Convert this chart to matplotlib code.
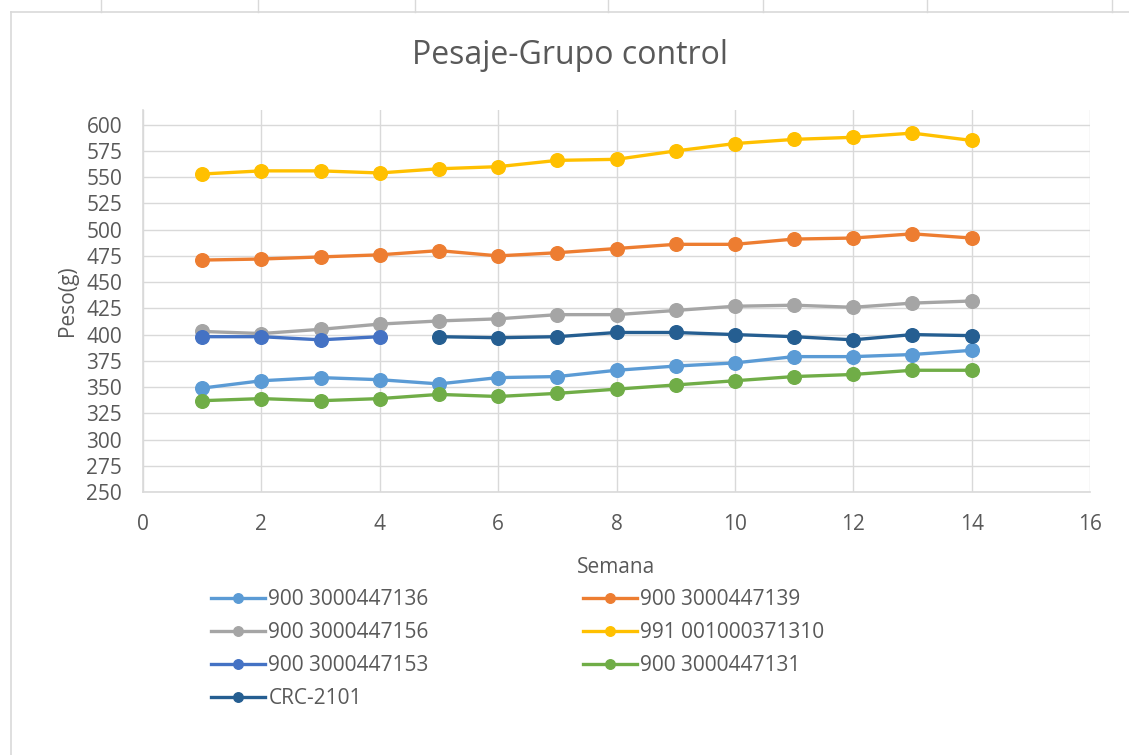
import matplotlib
matplotlib.use("Agg")
import matplotlib.pyplot as plt
from matplotlib.lines import Line2D

plt.rcParams['font.family'] = ['Open Sans', 'DejaVu Sans']

# semanas y pesos (g) de cada animal
semanas = list(range(1, 15))
peso_136 = [349, 356, 359, 357, 353, 359, 360, 366, 370, 373, 379, 379, 381, 385]
peso_139 = [471, 472, 474, 476, 480, 475, 478, 482, 486, 486, 491, 492, 496, 492]
peso_156 = [403, 401, 405, 410, 413, 415, 419, 419, 423, 427, 428, 426, 430, 432]
peso_310 = [553, 556, 556, 554, 558, 560, 566, 567, 575, 582, 586, 588, 592, 585]
semanas_153 = [1, 2, 3, 4]
peso_153 = [398, 398, 395, 398]
peso_131 = [337, 339, 337, 339, 343, 341, 344, 348, 352, 356, 360, 362, 366, 366]
semanas_crc = list(range(5, 15))
peso_crc = [398, 397, 398, 402, 402, 400, 398, 395, 400, 399]

series = [
    ("900 3000447136", semanas, peso_136, "#5B9BD5"),
    ("900 3000447139", semanas, peso_139, "#ED7D31"),
    ("900 3000447156", semanas, peso_156, "#A5A5A5"),
    ("991 001000371310", semanas, peso_310, "#FFC000"),
    ("900 3000447153", semanas_153, peso_153, "#4472C4"),
    ("900 3000447131", semanas, peso_131, "#70AD47"),
    ("CRC-2101", semanas_crc, peso_crc, "#255E91"),
]

fig = plt.figure(figsize=(11.29, 7.55), dpi=100)

# bordes tipo hoja de calculo
grey = "#D9D9D9"
fig.add_artist(Line2D([11/1129, 11/1129], [0, 1 - 12/755], color=grey, lw=1.2))
fig.add_artist(Line2D([11/1129, 1], [1 - 12/755, 1 - 12/755], color=grey, lw=1.2))
for xc in [101, 258, 415, 608, 763, 927, 1112]:
    fig.add_artist(Line2D([xc/1129, xc/1129], [1 - 12/755, 1], color=grey, lw=1))

ax = fig.add_axes([143/1129, 1 - 492/755, (1090 - 143)/1129, (492 - 110)/755])

handles = {}
for name, xs, ys, c in series:
    h, = ax.plot(xs, ys, color=c, lw=2.4, marker="o", markersize=9.8, label=name)
    handles[name] = h

ax.set_xlim(0, 16)
ax.set_ylim(250, 614)
ax.set_xticks(range(0, 17, 2))
ax.set_yticks(range(250, 601, 25))
ax.grid(True, color=grey, lw=1)
ax.set_axisbelow(True)
for s in ["top", "right"]:
    ax.spines[s].set_visible(False)
for s in ["left", "bottom"]:
    ax.spines[s].set_color(grey)
    ax.spines[s].set_linewidth(1.2)
ax.tick_params(length=0, labelsize=15, colors="#595959")
ax.tick_params(axis="y", pad=15)
ax.tick_params(axis="x", pad=16)

ax.set_xlabel("Semana", fontsize=15, color="#595959", labelpad=16)
ax.set_ylabel("Peso(g)", fontsize=15, color="#595959", labelpad=6)

fig.text(570/1129, 1 - 55/755, "Pesaje-Grupo control", ha="center", va="center",
         fontsize=23, color="#595959")

order = ["900 3000447136", "900 3000447156", "900 3000447153", "CRC-2101",
         "900 3000447139", "991 001000371310", "900 3000447131"]
leg = fig.legend([handles[n] for n in order], order, ncol=2,
                 loc="upper left", bbox_to_anchor=(211/1129, 1 - 589/755),
                 frameon=False, fontsize=15, handlelength=2.6, handletextpad=0.15,
                 columnspacing=7.4, labelspacing=0.58, borderaxespad=0, borderpad=0,
                 markerscale=0.7)
for t in leg.get_texts():
    t.set_color("#595959")

fig.savefig("out.png", dpi=100)
